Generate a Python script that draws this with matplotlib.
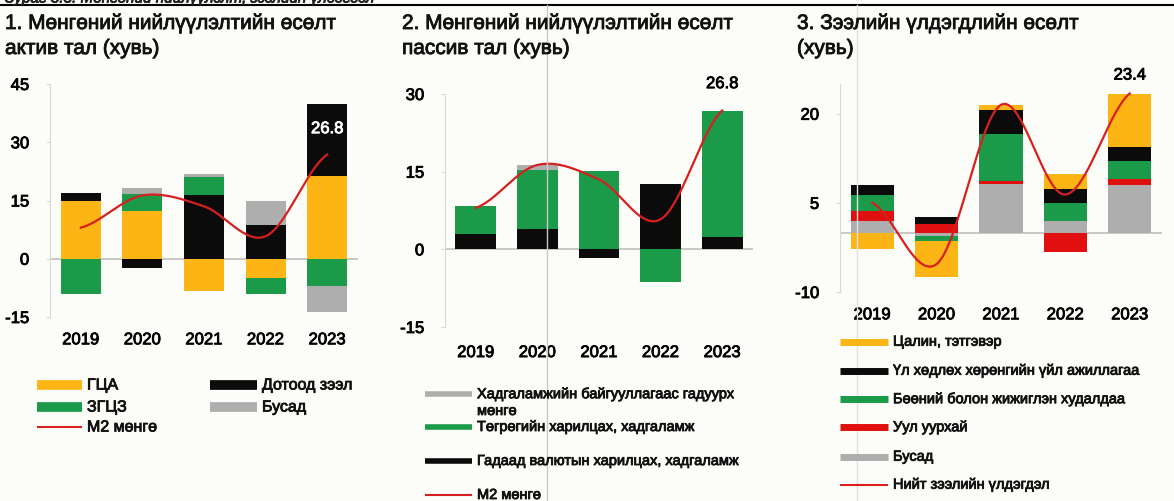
import numpy as np
import matplotlib
matplotlib.use("Agg")
import matplotlib.pyplot as plt
import matplotlib.patheffects as pe
from matplotlib.lines import Line2D
from matplotlib.text import Text

plt.rcParams['font.family'] = ['Liberation Sans', 'DejaVu Sans']

years = ['2019', '2020', '2021', '2022', '2023']

# 1. assets side
gca = [15.0, 12.2, -8.3, -4.9, 21.2]          # ГЦА
dotood = [2.0, -2.5, 16.4, 8.7, 18.7]         # Дотоод зээл
zgcz = [-9.0, 4.5, 4.6, -4.1, -7.0]           # ЗГЦЗ
busad1 = [0.0, 1.5, 0.9, 6.3, -6.6]           # Бусад
m2 = [8.0, 16.3, 13.5, 5.8, 26.8]             # М2 мөнгө

# 2. liabilities side
gadaad = [2.9, 3.9, -1.7, 12.7, 2.4]          # Гадаад валютын харилцах, хадгаламж
tugrug = [5.4, 11.5, 15.2, -6.3, 24.4]        # Төгрөгийн харилцах, хадгаламж
gaduur = [0.0, 0.8, 0.0, 0.0, 0.0]            # Хадгаламжийн байгууллагаас гадуурх мөнгө

# 3. loans
busad3 = [2.0, -0.5, 8.15, 2.0, 8.0]          # Бусад
uul = [1.7, 1.4, 0.5, -3.2, 0.95]             # Уул уурхай
buunii = [2.7, -0.9, 7.9, 3.0, 3.15]          # Бөөний болон жижиглэн худалдаа
ul_hudluh = [1.6, 1.15, 4.05, 2.26, 2.35]     # Үл хөдлөх хөрөнгийн үйл ажиллагаа
tsalin = [-2.8, -6.0, 0.8, 2.6, 8.9]          # Цалин, тэтгэвэр
niit = [5.0, -5.3, 21.5, 6.4, 23.4]           # Нийт зээлийн үлдэгдэл

YEL = '#FDB515'
GRN = '#1B9A4A'
BLK = '#0B0B0B'
GRY = '#AEAEAE'
RED = '#E01010'
LINE = '#D62020'

W, H = 1174, 502


def fx(px):
    return px / W


def fy(py):
    return 1 - py / H


def smooth(y, n=40):
    # excel-like smoothed line (catmull-rom through the points)
    y = np.asarray(y, float)
    x = np.arange(len(y), dtype=float)
    xs, ys = [], []
    for i in range(len(y) - 1):
        p0 = y[i - 1] if i > 0 else y[i]
        p3 = y[i + 2] if i + 2 < len(y) else y[i + 1]
        p1, p2 = y[i], y[i + 1]
        t = np.linspace(0, 1, n)
        c1 = p1 + (p2 - p0) / 6
        c2 = p2 - (p3 - p1) / 6
        yy = (1 - t) ** 3 * p1 + 3 * (1 - t) ** 2 * t * c1 + 3 * (1 - t) * t ** 2 * c2 + t ** 3 * p2
        xs.append(x[i] + t)
        ys.append(yy)
    return np.concatenate(xs), np.concatenate(ys)


def stacked(ax, series, colors, width):
    pos = np.zeros(len(years))
    neg = np.zeros(len(years))
    x = np.arange(len(years))
    for vals, c in zip(series, colors):
        vals = np.asarray(vals, float)
        bottom = np.where(vals >= 0, pos, neg)
        ax.bar(x, vals, width, bottom=bottom, color=c, zorder=2)
        pos = pos + np.where(vals > 0, vals, 0)
        neg = neg + np.where(vals < 0, vals, 0)


def style(ax, ylim, ticks, xpad):
    ax.set_xlim(-0.5, 4.5)
    ax.set_ylim(*ylim)
    ax.set_yticks(ticks)
    ax.set_yticklabels([str(t) for t in ticks])
    ax.set_xticks(range(len(years)))
    ax.set_xticklabels(years)
    for s in ['top', 'right', 'bottom']:
        ax.spines[s].set_visible(False)
    ax.spines['left'].set_color('#D9D9D9')
    ax.axhline(0, color='#BFBFBF', lw=1.2, zorder=1)
    ax.tick_params(axis='y', length=3, color='#D9D9D9', labelsize=12, pad=12)
    ax.tick_params(axis='x', length=0, labelsize=12, pad=xpad)
    ax.set_facecolor('none')


fig = plt.figure(figsize=(W / 100, H / 100), dpi=100)
fig.patch.set_facecolor('#FCFCF8')

# header strip (cut off at the top, as in the scan)
fig.text(fx(5), fy(3.5), 'Зураг 3.3. Мөнгөний нийлүүлэлт, зээлийн үлдэгдэл',
         fontsize=11, style='italic', va='baseline', color='#222222')
fig.add_artist(Line2D([0, 1], [fy(6), fy(6)], transform=fig.transFigure, color='black', lw=1.5))
fig.add_artist(Line2D([fx(547), fx(547)], [0, fy(6)], transform=fig.transFigure, color='#C8C8C8', lw=1))
fig.add_artist(Line2D([fx(857), fx(857)], [0, fy(6)], transform=fig.transFigure, color='#E2E2E2', lw=1))

# panel 1
ax1 = fig.add_axes([fx(50), fy(318), 308 / W, 233 / H])
stacked(ax1, [gca, dotood, zgcz, busad1], [YEL, BLK, GRN, GRY], 0.65)
xs, ys = smooth(m2)
ax1.plot(xs, ys, color=LINE, lw=1.6, zorder=3)
style(ax1, (-15, 45), [-15, 0, 15, 30, 45], 11)
ax1.text(4, 33.5, '26.8', color='white', fontsize=12, ha='center', va='center', zorder=4)

# panel 2
ax2 = fig.add_axes([fx(445), fy(328), 308 / W, 233 / H])
stacked(ax2, [gadaad, tugrug, gaduur], [BLK, GRN, GRY], 0.66)
xs, ys = smooth(m2)
ax2.plot(xs, ys, color=LINE, lw=1.6, zorder=3)
style(ax2, (-15, 30), [-15, 0, 15, 30], 13)
ax2.text(4, 32, '26.8', color='black', fontsize=12, ha='center', va='center', clip_on=False)

# panel 3
ax3 = fig.add_axes([fx(840), fy(293), 322 / W, 208 / H])
stacked(ax3, [busad3, uul, buunii, ul_hudluh, tsalin], [GRY, RED, GRN, BLK, YEL], 0.67)
xs, ys = smooth(niit)
ax3.plot(xs, ys, color=LINE, lw=1.6, zorder=3)
style(ax3, (-10, 25), [-10, 5, 20], 11)
ax3.text(4, 26.5, '23.4', color='black', fontsize=12, ha='center', va='center', clip_on=False)

# titles
TFS = 15
for x0, l1, l2 in [(5, '1. Мөнгөний нийлүүлэлтийн өсөлт', 'актив тал (хувь)'),
                   (402, '2. Мөнгөний нийлүүлэлтийн өсөлт', 'пассив тал (хувь)'),
                   (797, '3. Зээлийн үлдэгдлийн өсөлт', '(хувь)')]:
    fig.text(fx(x0), fy(30), l1, fontsize=TFS, va='baseline', color='#111111')
    fig.text(fx(x0), fy(55), l2, fontsize=TFS, va='baseline', color='#111111')


def legend_item(x0, x1, y, color, lw, label, fs):
    fig.add_artist(Line2D([fx(x0), fx(x1)], [fy(y), fy(y)], transform=fig.transFigure,
                          color=color, lw=lw, solid_capstyle='butt'))
    fig.text(fx(x1 + 5), fy(y), label, fontsize=fs, va='center', color='#111111')


# legend 1
legend_item(37, 82, 386, YEL, 7, 'ГЦА', 11.5)
legend_item(37, 82, 408, GRN, 7, 'ЗГЦЗ', 11.5)
legend_item(37, 82, 428, LINE, 1.5, 'М2 мөнгө', 11.5)
legend_item(210, 257, 386, BLK, 7, 'Дотоод зээл', 11.5)
legend_item(210, 257, 408, GRY, 7, 'Бусад', 11.5)

# legend 2
legend_item(425, 472, 395, GRY, 4, 'Хадгаламжийн байгууллагаас гадуурх', 10.5)
fig.text(fx(477), fy(412), 'мөнгө', fontsize=10.5, va='center', color='#111111')
legend_item(425, 472, 428, GRN, 4, 'Төгрөгийн харилцах, хадгаламж', 10.5)
legend_item(425, 472, 462, BLK, 4, 'Гадаад валютын харилцах, хадгаламж', 10.5)
legend_item(425, 472, 496, LINE, 1.5, 'М2 мөнгө', 10.5)

# legend 3
legend_item(840, 888, 342.7, YEL, 5, 'Цалин, тэтгэвэр', 10.5)
legend_item(840, 888, 371.7, BLK, 5, 'Үл хөдлөх хөрөнгийн үйл ажиллагаа', 10.5)
legend_item(840, 888, 400, GRN, 5, 'Бөөний болон жижиглэн худалдаа', 10.5)
legend_item(840, 888, 428.3, RED, 5, 'Уул уурхай', 10.5)
legend_item(840, 888, 457.7, GRY, 5, 'Бусад', 10.5)
legend_item(840, 888, 485.7, LINE, 1.5, 'Нийт зээлийн үлдэгдэл', 10.5)

# the scan makes all lettering a bit heavier
for t in fig.findobj(Text):
    if t.get_text():
        t.set_path_effects([pe.withStroke(linewidth=0.6, foreground=t.get_color())])

fig.savefig('out.png', dpi=100, facecolor=fig.get_facecolor())
